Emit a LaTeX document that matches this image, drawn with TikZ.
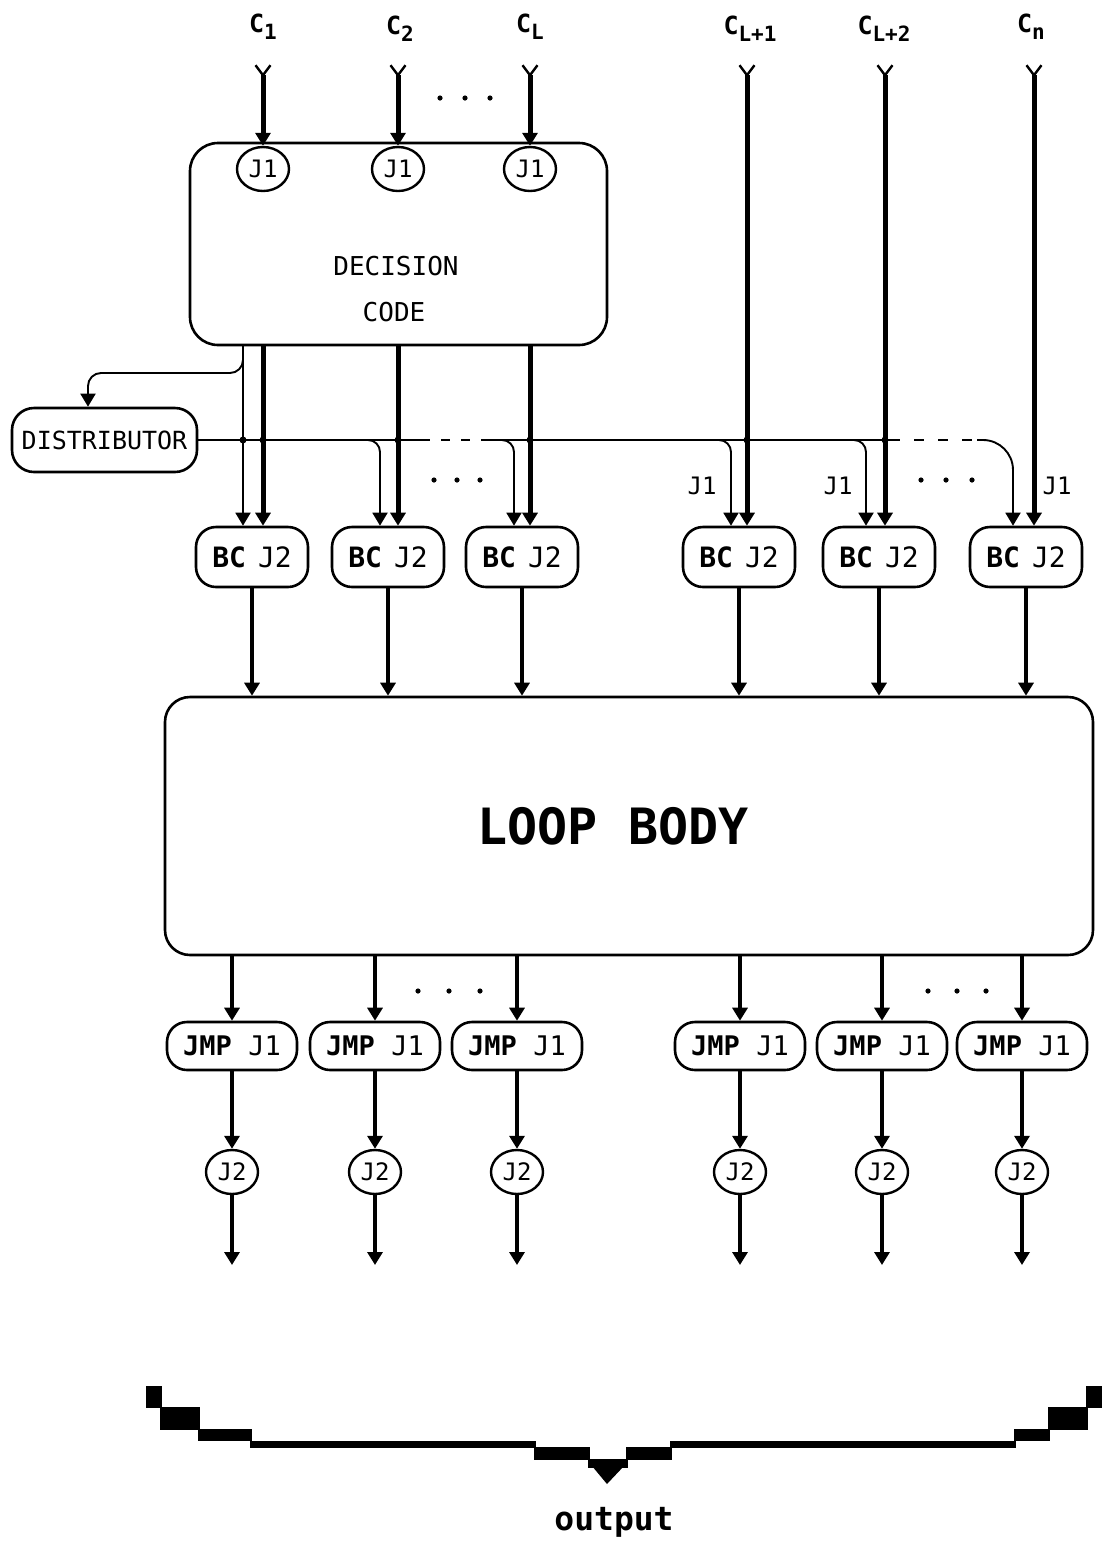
\documentclass[tikz,border=0pt]{standalone}
\usepackage{fontspec}
\setmainfont{DejaVu Sans Mono}
\usetikzlibrary{arrows.meta,shapes.geometric}
\newcommand\clab[1]{C\raisebox{-7pt}{\fontsize{21}{21}\selectfont #1}}
\begin{document}
\begin{tikzpicture}[x=1pt,y=-1pt,
  rbox/.style={draw, line width=2.6pt, rounded corners=#1, inner sep=0pt, align=center},
  rbox/.default=20pt,
  jc/.style={draw, ellipse, line width=2.4pt, minimum width=52pt, minimum height=44pt, inner sep=0pt, font=\fontsize{24}{24}\selectfont},
  bcs/.style={rbox=20pt, minimum width=112pt, minimum height=60pt, font=\fontsize{28}{28}\selectfont},
  jmps/.style={rbox=20pt, minimum width=130pt, minimum height=48pt, font=\fontsize{27}{27}\selectfont},
  thk/.style={line width=5pt},
  med/.style={line width=4pt},
  thn/.style={line width=1.9pt},
  >={Triangle[length=13pt,width=15pt]},
  ytail/.style={{Straight Barb[reversed,length=10pt,width=15pt,line width=2.4pt]}-{Triangle[length=13pt,width=15pt]}},
  jdot/.style={circle, fill, inner sep=0pt, minimum size=7pt},
  lbl/.style={font=\fontsize{24}{24}\selectfont},
  clbl/.style={font=\bfseries\fontsize{25}{25}\selectfont},
]
\useasboundingbox (0,0) rectangle (1104,1543);

% input labels
\node[clbl] (ca) at (263,27) {\clab{1}};
\node[clbl] (cb) at (400,29) {\clab{2}};
\node[clbl] (cc) at (530,27) {\clab{L}};
\node[clbl] (cd) at (750,29) {\clab{L+1}};
\node[clbl] (ce) at (884,29) {\clab{L+2}};
\node[clbl] (cf) at (1031,27) {\clab{n}};
\coordinate (ta) at (263,64);
\coordinate (tb) at (398,64);
\coordinate (tc) at (530,64);
\coordinate (td) at (747,64);
\coordinate (te) at (885,64);
\coordinate (tf) at (1034,64);

% decision code
\node[rbox=28pt, minimum width=417pt, minimum height=202pt] (dec) at (398.5,244) {};
\node[font=\fontsize{26}{26}\selectfont] (deca) at (396,266) {DECISION};
\node[font=\fontsize{26}{26}\selectfont] (decb) at (394,312) {CODE};
\node[jc] (ja) at (263,169) {J1};
\node[jc] (jb) at (398,169) {J1};
\node[jc] (jcc) at (530,169) {J1};

% distributor
\node[rbox=22pt, minimum width=185pt, minimum height=64pt, font=\fontsize{25}{25}\selectfont] (dist) at (104.5,440) {DISTRIBUTOR};

% BC boxes
\node[bcs] (bca) at (252,557) {\textbf{BC}\hspace{12pt}J2};
\node[bcs] (bcb) at (388,557) {\textbf{BC}\hspace{12pt}J2};
\node[bcs] (bcc) at (522,557) {\textbf{BC}\hspace{12pt}J2};
\node[bcs] (bcd) at (739,557) {\textbf{BC}\hspace{12pt}J2};
\node[bcs] (bce) at (879,557) {\textbf{BC}\hspace{12pt}J2};
\node[bcs] (bcf) at (1026,557) {\textbf{BC}\hspace{12pt}J2};

% loop body
\node[rbox=25pt, minimum width=928pt, minimum height=258pt] (loop) at (629,826) {};
\node[font=\bfseries\fontsize{50}{50}\selectfont] (looptxt) at (613,826) {LOOP BODY};

% JMP boxes
\node[jmps] (ma) at (232,1046) {\textbf{JMP} J1};
\node[jmps] (mb) at (375,1046) {\textbf{JMP} J1};
\node[jmps] (mc) at (517,1046) {\textbf{JMP} J1};
\node[jmps] (md) at (740,1046) {\textbf{JMP} J1};
\node[jmps] (me) at (882,1046) {\textbf{JMP} J1};
\node[jmps] (mf) at (1022,1046) {\textbf{JMP} J1};

% J2 circles
\node[jc] (ka) at (232,1172) {J2};
\node[jc] (kb) at (375,1172) {J2};
\node[jc] (kc) at (517,1172) {J2};
\node[jc] (kd) at (740,1172) {J2};
\node[jc] (ke) at (882,1172) {J2};
\node[jc] (kf) at (1022,1172) {J2};
\coordinate (oa) at (232,1265);
\coordinate (ob) at (375,1265);
\coordinate (oc) at (517,1265);
\coordinate (od) at (740,1265);
\coordinate (oe) at (882,1265);
\coordinate (of) at (1022,1265);

% inputs
\draw[thk, ytail] (ta) -- (ja.north);
\draw[thk, ytail] (tb) -- (jb.north);
\draw[thk, ytail] (tc) -- (jcc.north);
\draw[thk, ytail] (td) -- (td |- bcd.north);
\draw[thk, ytail] (te) -- (te |- bce.north);
\draw[thk, ytail] (tf) -- (tf |- bcf.north);

% decision -> BC (thick)
\draw[thk, ->] (ja |- dec.south) -- (ja |- bca.north);
\draw[thk, ->] (jb |- dec.south) -- (jb |- bcb.north);
\draw[thk, ->] (jcc |- dec.south) -- (jcc |- bcc.north);

% thin line decision -> BC1 and branch to distributor
\coordinate (sa) at (243,345);
\draw[thn, ->] (sa) -- (sa |- bca.north);
\draw[thn, ->, rounded corners=13pt] (243,350) -- (243,373) -- (88,373) -- ([xshift=-16.5pt]dist.north);

% distributor bus
\draw[thn] (dist.east) -- (421,440);
\draw[thn, dash pattern=on 9pt off 11pt] (421,440) -- (481,440);
\draw[thn] (481,440) -- (890,440);
\draw[thn, dash pattern=on 10pt off 14pt] (890,440) -- (977,440);
\draw[thn, ->, rounded corners=30pt] (977,440) -| ([xshift=-13pt]bcf.north);
\draw[thn, ->, rounded corners=12pt] (366,440) -| ([xshift=-8pt]bcb.north);
\draw[thn, ->, rounded corners=12pt] (500,440) -| ([xshift=-8pt]bcc.north);
\draw[thn, ->, rounded corners=12pt] (717,440) -| ([xshift=-8pt]bcd.north);
\draw[thn, ->, rounded corners=12pt] (852,440) -| ([xshift=-13pt]bce.north);
\foreach \xx in {243,263,398,530,747,885} \node[jdot] at (\xx,440) {};

% J1 labels
\node[lbl] (la) at (702,486) {J1};
\node[lbl] (lb) at (838,486) {J1};
\node[lbl] (lc) at (1057,486) {J1};

% dots
\foreach \xx in {440,465,490} \fill (\xx,98) circle (2.6pt);
\foreach \xx in {434,457,480} \fill (\xx,480) circle (2.6pt);
\foreach \xx in {921,946,972} \fill (\xx,480) circle (2.6pt);
\foreach \xx in {418,449,480} \fill (\xx,991) circle (2.6pt);
\foreach \xx in {928,957,986} \fill (\xx,991) circle (2.6pt);

% BC -> loop
\foreach \n in {bca,bcb,bcc,bcd,bce,bcf} \draw[med, ->] (\n.south) -- (\n.south |- loop.north);
% loop -> JMP -> J2 -> out
\draw[med, ->] (ma |- loop.south) -- (ma.north);
\draw[med, ->] (mb |- loop.south) -- (mb.north);
\draw[med, ->] (mc |- loop.south) -- (mc.north);
\draw[med, ->] (md |- loop.south) -- (md.north);
\draw[med, ->] (me |- loop.south) -- (me.north);
\draw[med, ->] (mf |- loop.south) -- (mf.north);
\draw[med, ->] (ma.south) -- (ka.north);
\draw[med, ->] (mb.south) -- (kb.north);
\draw[med, ->] (mc.south) -- (kc.north);
\draw[med, ->] (md.south) -- (kd.north);
\draw[med, ->] (me.south) -- (ke.north);
\draw[med, ->] (mf.south) -- (kf.north);
\draw[med, ->] (ka.south) -- (oa);
\draw[med, ->] (kb.south) -- (ob);
\draw[med, ->] (kc.south) -- (oc);
\draw[med, ->] (kd.south) -- (od);
\draw[med, ->] (ke.south) -- (oe);
\draw[med, ->] (kf.south) -- (of);

% stepped brace
\fill (146,1386) rectangle (162,1408);
\fill (160,1407) rectangle (200,1430);
\fill (198,1429) rectangle (252,1441);
\fill (250,1441) rectangle (536,1448);
\fill (534,1447) rectangle (590,1460);
\fill (588,1459) rectangle (628,1468);
\fill (592,1466) -- (624,1466) -- (607,1484) -- cycle;
\fill (626,1447) rectangle (672,1460);
\fill (670,1441) rectangle (1016,1448);
\fill (1014,1429) rectangle (1050,1441);
\fill (1048,1407) rectangle (1088,1430);
\fill (1086,1386) rectangle (1102,1408);
\node[font=\bfseries\fontsize{33}{33}\selectfont] (out) at (614,1522) {output};
\end{tikzpicture}
\end{document}
